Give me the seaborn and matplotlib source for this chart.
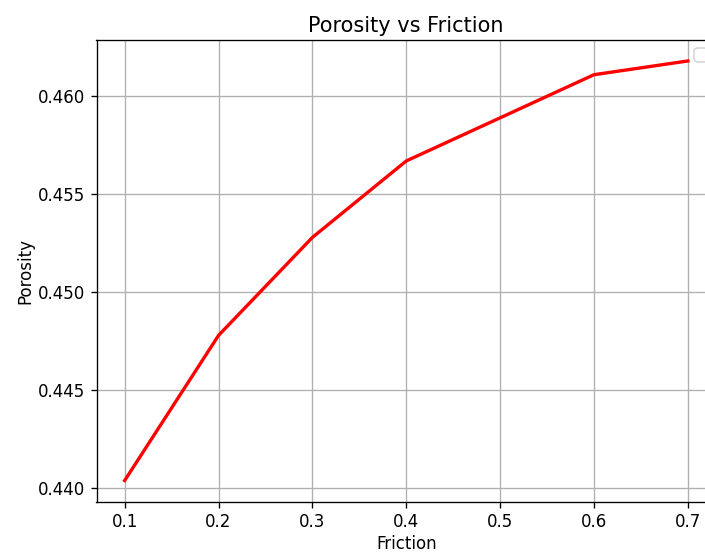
import matplotlib
matplotlib.use("Agg")
import matplotlib.pyplot as plt
import seaborn as sns
import pandas as pd

friction = [0.1, 0.2, 0.3, 0.4, 0.5, 0.6, 0.7]
porosity = [0.4404, 0.4478, 0.4528, 0.4567, 0.4589, 0.4611, 0.4618]

df = pd.DataFrame({"Friction": friction, "Porosity": porosity})

DPI = 120
W, H = 705, 554
fig = plt.figure(figsize=(W / DPI, H / DPI), dpi=DPI)
left, right, top, bottom = 96.5, 716, 40, 501.5
ax = fig.add_axes([left / W, (H - bottom) / H, (right - left) / W, (bottom - top) / H])

sns.lineplot(data=df, x="Friction", y="Porosity", color="red", linewidth=2, ax=ax)
ax.set_title("Porosity vs Friction", fontsize=12.5, pad=4.6)
ax.set_xlabel("Friction", labelpad=2.2)
ax.set_ylabel("Porosity", labelpad=2.2)
ax.grid(True, color="#b0b0b0", linewidth=0.8)
ax.set_yticks([0.440, 0.445, 0.450, 0.455, 0.460])
ax.legend(loc="best")

fig.savefig("out.png", dpi=DPI)
